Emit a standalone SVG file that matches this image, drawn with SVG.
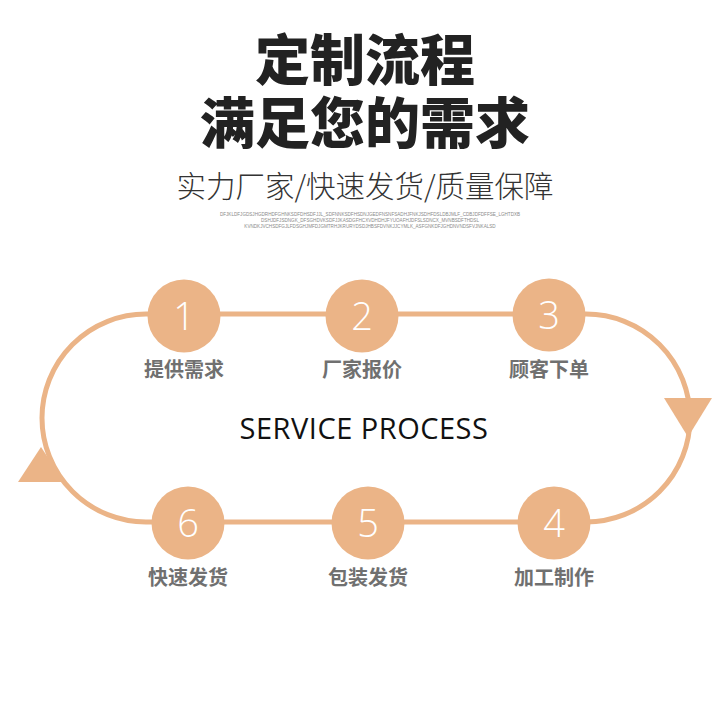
<svg xmlns="http://www.w3.org/2000/svg" width="728" height="728" viewBox="0 0 728 728">
<style>
.title{font-family:"Noto Sans CJK SC","Noto Sans",sans-serif;font-weight:900;font-size:55px;fill:#222;text-anchor:middle}
.sub{font-family:"Noto Sans CJK SC","Noto Sans",sans-serif;font-weight:300;font-size:29.5px;fill:#333;text-anchor:middle}
.tiny{font-family:"Liberation Sans",sans-serif;font-size:4.6px;fill:#8a8a8a;text-anchor:middle}
.dot{fill:#EBB487}
.num{font-family:"Open Sans","Noto Sans",sans-serif;font-weight:300;font-size:38px;fill:#fff;text-anchor:middle}
.lbl{font-family:"Noto Sans CJK SC","Noto Sans",sans-serif;font-weight:700;font-size:20px;fill:#707070;text-anchor:middle}
.eng{font-family:"Open Sans","Noto Sans",sans-serif;font-weight:400;font-size:29px;letter-spacing:0.5px;fill:#111;text-anchor:middle}
.loop{fill:none;stroke:#EBB487;stroke-width:5}
.arrow{fill:#EBB487}
</style>
<rect width="728" height="728" fill="#fff"/>
<g id="header">
<text class="title" x="365" y="80">定制流程</text>
<text class="title" x="365" y="143">满足您的需求</text>
<text class="sub" x="365" y="197">实力厂家/快速发货/质量保障</text>
<text class="tiny" x="370" y="216">DFJKLDFJGDSJHGDRHDFGHNKSDFDHSDFJJL_SDFNNKSDFHSDNJGEDFNSNFSADHJFNKJSDHFDSLDBJMLF_CDBJDFDFFSE_LGHTDXB</text>
<text class="tiny" x="370" y="222">DSHJDFJSDNGK_DFSGHDVKSDFJJKASDGFHCXVDHDHJFYUOAFHJDFSLSDNCX_MVNBSDFTHDSL</text>
<text class="tiny" x="370" y="228">KVNDKJVCHSDFGJLFDSGHJMFDJGMTRHJKRURYDSDJHBSFDVNKJJCYMLK_ASFGNKDFJGHDNVNDSFVJNKALSD</text>
</g>
<g id="connectors">
<path class="loop" d="M146 314 H586 A104 104 0 0 1 586 522 H146 A104 104 0 0 1 146 314 Z"/>
<polygon class="arrow" points="664,398 712,398 688,437"/>
<polygon class="arrow" points="18,482 64,482 41,447"/>
</g>
<text class="eng" x="364" y="439">SERVICE PROCESS</text>
<g id="step1"><circle class="dot" cx="184" cy="316" r="36.5"/><text class="num" x="184" y="330">1</text><text class="lbl" x="184" y="377">提供需求</text></g>
<g id="step2"><circle class="dot" cx="362" cy="316" r="36.5"/><text class="num" x="362" y="330">2</text><text class="lbl" x="362" y="377">厂家报价</text></g>
<g id="step3"><circle class="dot" cx="549" cy="315" r="36.5"/><text class="num" x="549" y="329">3</text><text class="lbl" x="549" y="377">顾客下单</text></g>
<g id="step4"><circle class="dot" cx="554" cy="523" r="36.5"/><text class="num" x="554" y="537">4</text><text class="lbl" x="554" y="585">加工制作</text></g>
<g id="step5"><circle class="dot" cx="368" cy="523" r="36.5"/><text class="num" x="368" y="537">5</text><text class="lbl" x="368" y="585">包装发货</text></g>
<g id="step6"><circle class="dot" cx="188" cy="523" r="36.5"/><text class="num" x="188" y="537">6</text><text class="lbl" x="188" y="585">快速发货</text></g>
</svg>
